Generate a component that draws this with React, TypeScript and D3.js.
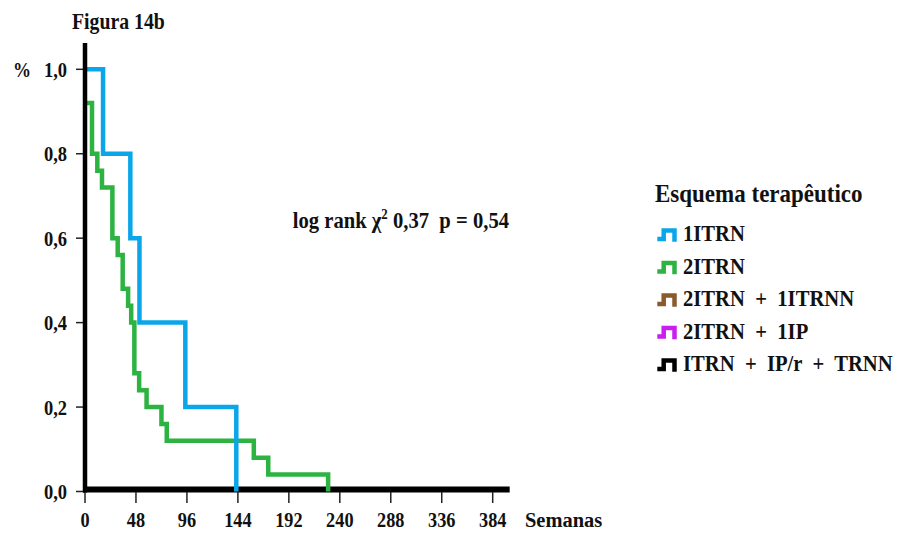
import React from "react";
import * as d3 from "d3";

const W = 900;
const H = 535;

// Kaplan-Meier steps (weeks, survival proportion)
const blueTimes = [0, 17, 42.7, 51.3, 94.5, 142.5];
const blueValues = [1.0, 0.8, 0.6, 0.4, 0.2, 0.0];

const greenTimes = [0, 6.6, 11.6, 16, 25.8, 30.8, 35.5, 40.6, 43.5, 46.5, 51, 58, 72, 77, 159, 172.6, 229];
const greenValues = [0.92, 0.8, 0.76, 0.72, 0.6, 0.56, 0.48, 0.44, 0.4, 0.28, 0.24, 0.2, 0.16, 0.12, 0.08, 0.04, 0.0];

const yTicks = [0, 0.2, 0.4, 0.6, 0.8, 1.0];
const yTickLabels = ["0,0", "0,2", "0,4", "0,6", "0,8", "1,0"];
const xTicks = [0, 48, 96, 144, 192, 240, 288, 336, 384];

const legendLabels = ["1ITRN", "2ITRN", "2ITRN  +  1ITRNN", "2ITRN  +  1IP", "ITRN  +  IP/r  +  TRNN"];
const legendColors = ["#0ba6ea", "#2db341", "#8b5a2b", "#c81ef0", "#000000"];

const FONT = "'Liberation Serif', 'Times New Roman', serif";
const INK = "#111";

function CText({ x, y, size, sx = 0.86, anchor = "start", children }: any) {
  return (
    <text
      transform={`translate(${x},${y}) scale(${sx},1)`}
      fontFamily={FONT}
      fontWeight="bold"
      fontSize={size}
      fill={INK}
      textAnchor={anchor}
      style={{ whiteSpace: "pre" }}
    >
      {children}
    </text>
  );
}

export default function App() {
  const x = d3.scaleLinear().domain([0, 384]).range([85, 492.7]);
  const y = d3.scaleLinear().domain([0, 1]).range([491.5, 69.3]);

  const line = d3
    .line<[number, number]>()
    .x((d) => x(d[0]))
    .y((d) => y(d[1]))
    .curve(d3.curveStepAfter);

  const blue = line(blueTimes.map((t, i) => [t, blueValues[i]]) as [number, number][]) || "";
  const green = line(greenTimes.map((t, i) => [t, greenValues[i]]) as [number, number][]) || "";

  const legendBase = 241;
  const legendStep = 32.5;

  return (
    <svg width={W} height={H} style={{ position: "absolute", left: 0, top: 0, background: "#fff" }}>
      <rect x={0} y={0} width={W} height={H} fill="#fff" />

      {/* title */}
      <CText x={72} y={29} size={23} sx={0.86}>Figura 14b</CText>

      {/* % label */}
      <CText x={13} y={76.5} size={21} sx={0.86}>%</CText>

      {/* x axis line */}
      <line x1={83} x2={x(400)} y1={489.5} y2={489.5} stroke="#000" strokeWidth={6} />

      {/* x ticks */}
      {xTicks.map((t) => (
        <g key={"xt" + t}>
          <line x1={x(t)} x2={x(t)} y1={492} y2={503} stroke="#222" strokeWidth={1.5} />
          <CText x={x(t)} y={527} size={21} sx={0.87} anchor="middle">{String(t)}</CText>
        </g>
      ))}
      <CText x={525} y={527} size={22} sx={0.93}>Semanas</CText>

      {/* y ticks */}
      {yTicks.map((v, i) => (
        <g key={"yt" + v}>
          <line x1={76} x2={85} y1={y(v)} y2={y(v)} stroke="#222" strokeWidth={1.5} />
          <CText x={67} y={y(v) + 7.5} size={21} sx={0.88} anchor="end">{yTickLabels[i]}</CText>
        </g>
      ))}

      {/* curves */}
      <path d={green} fill="none" stroke={legendColors[1]} strokeWidth={4.5} />
      <path d={blue} fill="none" stroke={legendColors[0]} strokeWidth={4.5} />

      {/* y axis line */}
      <line x1={85} x2={85} y1={43} y2={492.5} stroke="#000" strokeWidth={4.5} />

      {/* annotation */}
      <text
        transform="translate(292.7,228) scale(0.86,1)"
        fontFamily={FONT}
        fontWeight="bold"
        fontSize={24}
        fill={INK}
        style={{ whiteSpace: "pre" }}
      >
        <tspan>log rank χ</tspan>
        <tspan dy={-9} fontSize={15}>2</tspan>
        <tspan dy={9}>{" 0,37  p = 0,54"}</tspan>
      </text>

      {/* legend */}
      <CText x={655} y={201.7} size={25} sx={0.92}>Esquema terapêutico</CText>
      {legendLabels.map((lab, i) => {
        const b = legendBase + i * legendStep;
        return (
          <g key={"lg" + i}>
            <path
              d={`M657.3,${b - 2} H663.7 V${b - 10.5} H674.5 V${b + 0.7}`}
              fill="none"
              stroke={legendColors[i]}
              strokeWidth={4.5}
            />
            <CText x={683} y={b} size={24} sx={0.86}>{lab}</CText>
          </g>
        );
      })}
    </svg>
  );
}
